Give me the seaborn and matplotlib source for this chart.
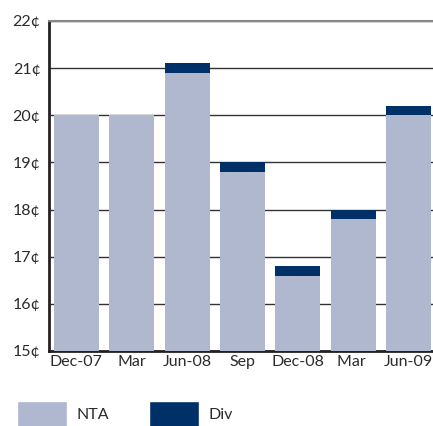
import pandas as pd
import matplotlib.pyplot as plt
import seaborn as sns
from matplotlib.patches import Patch
from matplotlib.ticker import FixedLocator

# values (cents)
periods = ['Dec-07', 'Mar', 'Jun-08', 'Sep', 'Dec-08', 'Mar ', 'Jun-09']
nta = [20.0, 20.0, 20.9, 18.8, 16.6, 17.8, 20.0]
div = [0.0, 0.0, 0.2, 0.2, 0.2, 0.2, 0.2]
y_ticks = [15, 16, 17, 18, 19, 20, 21, 22]

df = pd.DataFrame({'Period': periods, 'NTA': nta, 'Div': div})
df['Total'] = df['NTA'] + df['Div']

nta_col = '#b0b8cf'
div_col = '#003068'
txt_col = '#2b2b2b'

sns.set_style('white')
plt.rcParams['font.family'] = ['Lato', 'DejaVu Sans']

fig = plt.figure(figsize=(4.33, 4.26), dpi=100)
ax = fig.add_axes([49 / 433, 75 / 426, 1 - 49 / 433, (351 - 21) / 426])

# stacked: total in Div colour, NTA drawn over it
sns.barplot(data=df, x='Period', y='Total', color=div_col, width=0.81,
            saturation=1, linewidth=0, ax=ax, zorder=2)
sns.barplot(data=df, x='Period', y='NTA', color=nta_col, width=0.81,
            saturation=1, linewidth=0, ax=ax, zorder=3)

ax.set_ylim(15, 22)
ax.set_xlim(-0.495, 6.44)
ax.set_yticks(y_ticks)
ax.set_yticklabels([f'{v}¢' for v in y_ticks])
ax.set_xlabel('')
ax.set_ylabel('')

ax.yaxis.grid(True, color='#333333', linewidth=1)
ax.set_axisbelow(True)

ax.tick_params(axis='both', length=0, labelsize=11.5, labelcolor=txt_col)
ax.tick_params(axis='y', pad=6)
ax.tick_params(axis='x', pad=3)
ax.xaxis.set_minor_locator(FixedLocator([0.5, 1.5, 2.5, 3.5, 4.5, 5.5]))
ax.tick_params(axis='x', which='minor', direction='in', length=7,
               width=1.5, color='#222222')

for s in ['left', 'bottom']:
    ax.spines[s].set_color('#222222')
    ax.spines[s].set_linewidth(2)
ax.spines['top'].set_color('#888888')
ax.spines['top'].set_linewidth(1.5)
ax.spines['right'].set_visible(False)

handles = [Patch(facecolor=nta_col, label='NTA'),
           Patch(facecolor=div_col, label='Div')]
fig.legend(handles=handles, loc='lower left', bbox_to_anchor=(0.007, -0.035),
           ncol=2, frameon=False, fontsize=11.5, handlelength=3.1,
           handleheight=2.1, handletextpad=0.6, columnspacing=2.5,
           labelcolor=txt_col)

fig.savefig('out.png', dpi=100)
